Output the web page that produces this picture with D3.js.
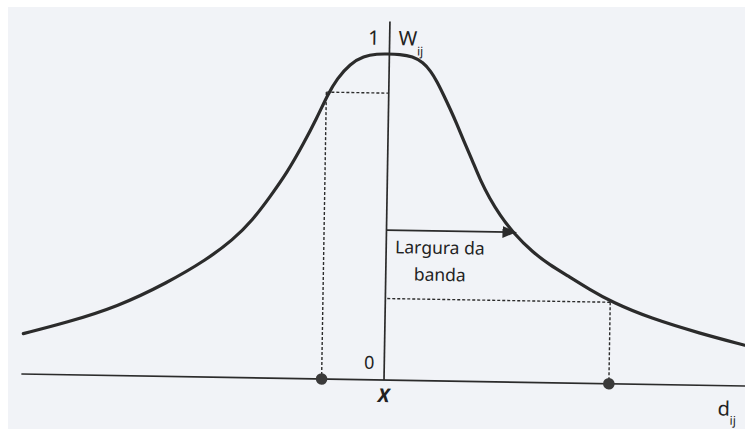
<!DOCTYPE html>
<html>
<head>
<meta charset="utf-8">
<script src="https://cdn.jsdelivr.net/npm/d3@7"></script>
<style>
  html, body { margin: 0; padding: 0; background: #fff; }
  svg { display: block; }
</style>
</head>
<body>
<script>
// Kernel de ponderação W_ij em função da distância d_ij (unidade = largura da banda)
const curveDist = [-2.78, -2.45, -2.06, -1.68, -1.38, -1.18, -1.03, -0.90, -0.77, -0.65, -0.55, -0.47, -0.40,
                   -0.30, -0.20, -0.09, -0.02, 0.08, 0.18, 0.26, 0.32, 0.37, 0.42, 0.475, 0.53, 0.58, 0.65,
                   0.715, 0.79, 0.87, 0.97, 1.13, 1.26, 1.40, 1.57, 1.745, 2.04, 2.425, 2.77];
const curveWeight = [0.124, 0.160, 0.211, 0.287, 0.360, 0.422, 0.484, 0.556, 0.632, 0.720, 0.800, 0.872, 0.922,
                     0.968, 0.992, 1.0, 1.0, 1.0, 0.994, 0.976, 0.950, 0.918, 0.879, 0.834, 0.787, 0.740, 0.679,
                     0.618, 0.562, 0.512, 0.460, 0.398, 0.362, 0.329, 0.288, 0.250, 0.203, 0.159, 0.125];

// pontos marcados no eixo, com o peso correspondente
const guideDist = [-0.48, 1.73];
const guideWeight = [0.88, 0.25];

const bandwidth = 1.0;
const arrowWeight = 0.46;
const axisDistExtent = [-2.79, 3.2];
const axisWeightTop = 1.10;

const width = 745, height = 429;
const ox = 384, oy = 380;        // origem (X, 0)
const pxPerUnit = 130;
const tilt = 0.95;               // leve inclinação da digitalização

const x = d3.scaleLinear().domain([0, 1]).range([ox, ox + pxPerUnit]);
const y = d3.scaleLinear().domain([0, 1]).range([oy, 54]);

const ink = "#2b2b2b";

const svg = d3.select("body").append("svg")
  .attr("width", width).attr("height", height)
  .style("font-family", "'Noto Sans', 'Open Sans', sans-serif");

// papel
svg.append("rect")
  .attr("x", 8).attr("y", 7).attr("width", width).attr("height", height)
  .attr("fill", "#f1f3f7");

svg.append("defs").append("marker")
  .attr("id", "head")
  .attr("viewBox", "0 0 14 12")
  .attr("refX", 14).attr("refY", 6)
  .attr("markerWidth", 14).attr("markerHeight", 12)
  .attr("markerUnits", "userSpaceOnUse")
  .attr("orient", "auto")
  .append("path").attr("d", "M0,0L14,6L0,12Z").attr("fill", ink);

const g = svg.append("g").attr("transform", `rotate(${tilt},${ox},${oy})`);

// eixos
g.append("line")
  .attr("x1", x(axisDistExtent[0])).attr("x2", x(axisDistExtent[1]))
  .attr("y1", y(0)).attr("y2", y(0))
  .attr("stroke", ink).attr("stroke-width", 1.7);
g.append("line")
  .attr("x1", x(0)).attr("x2", x(0))
  .attr("y1", y(0)).attr("y2", y(axisWeightTop))
  .attr("stroke", ink).attr("stroke-width", 1.7);

// linhas de chamada pontilhadas
const guides = guideDist.map((d, i) => ({d, w: guideWeight[i]}));
g.selectAll("line.gh").data(guides).join("line")
  .attr("class", "gh")
  .attr("x1", d => x(d.d)).attr("x2", x(0))
  .attr("y1", d => y(d.w)).attr("y2", d => y(d.w))
  .attr("stroke", ink).attr("stroke-width", 1.4).attr("stroke-dasharray", "3,2");
g.selectAll("line.gv").data(guides).join("line")
  .attr("class", "gv")
  .attr("x1", d => x(d.d)).attr("x2", d => x(d.d))
  .attr("y1", d => y(d.w)).attr("y2", y(0))
  .attr("stroke", ink).attr("stroke-width", 1.4).attr("stroke-dasharray", "3,2");

// curva
const pts = curveDist.map((d, i) => [d, curveWeight[i]]);
g.append("path")
  .datum(pts)
  .attr("fill", "none")
  .attr("stroke", ink).attr("stroke-width", 3.2)
  .attr("stroke-linecap", "round")
  .attr("d", d3.line().x(d => x(d[0])).y(d => y(d[1])).curve(d3.curveBasis));

// pontos no eixo
g.selectAll("circle.dot").data(guides).join("circle")
  .attr("class", "dot")
  .attr("cx", d => x(d.d)).attr("cy", y(0))
  .attr("r", 5.8).attr("fill", "#3a3a3a");

// seta da largura da banda
g.append("line")
  .attr("x1", x(0)).attr("x2", x(bandwidth))
  .attr("y1", y(arrowWeight)).attr("y2", y(arrowWeight))
  .attr("stroke", ink).attr("stroke-width", 1.7)
  .attr("marker-end", "url(#head)");

const label = g.append("g").attr("fill", "#222");
label.append("text")
  .attr("x", x(0) + 9).attr("y", y(arrowWeight) + 23)
  .style("font-size", "17.5px")
  .text("Largura da");
label.append("text")
  .attr("x", x(0) + 28).attr("y", y(arrowWeight) + 50)
  .style("font-size", "17.5px")
  .text("banda");

// rótulos dos eixos
label.append("text")
  .attr("x", x(0) - 10).attr("y", y(1) - 9)
  .attr("text-anchor", "end")
  .style("font-size", "20px")
  .text("1");
const wLab = label.append("text")
  .attr("x", x(0) + 9).attr("y", y(1) - 9)
  .style("font-size", "20px");
wLab.append("tspan").text("W");
wLab.append("tspan").attr("dy", 10).style("font-size", "12px").text("ij");

label.append("text")
  .attr("x", x(0) - 10).attr("y", y(0) - 11)
  .attr("text-anchor", "end")
  .style("font-size", "18px")
  .text("0");
label.append("text")
  .attr("x", x(0)).attr("y", y(0) + 22)
  .attr("text-anchor", "middle")
  .style("font-size", "19px").style("font-weight", "bold").style("font-style", "italic")
  .text("X");

const dLab = label.append("text")
  .attr("x", 718).attr("y", y(0) + 30)
  .style("font-size", "20px");
dLab.append("tspan").text("d");
dLab.append("tspan").attr("dy", 9).style("font-size", "12px").text("ij");
</script>
</body>
</html>
